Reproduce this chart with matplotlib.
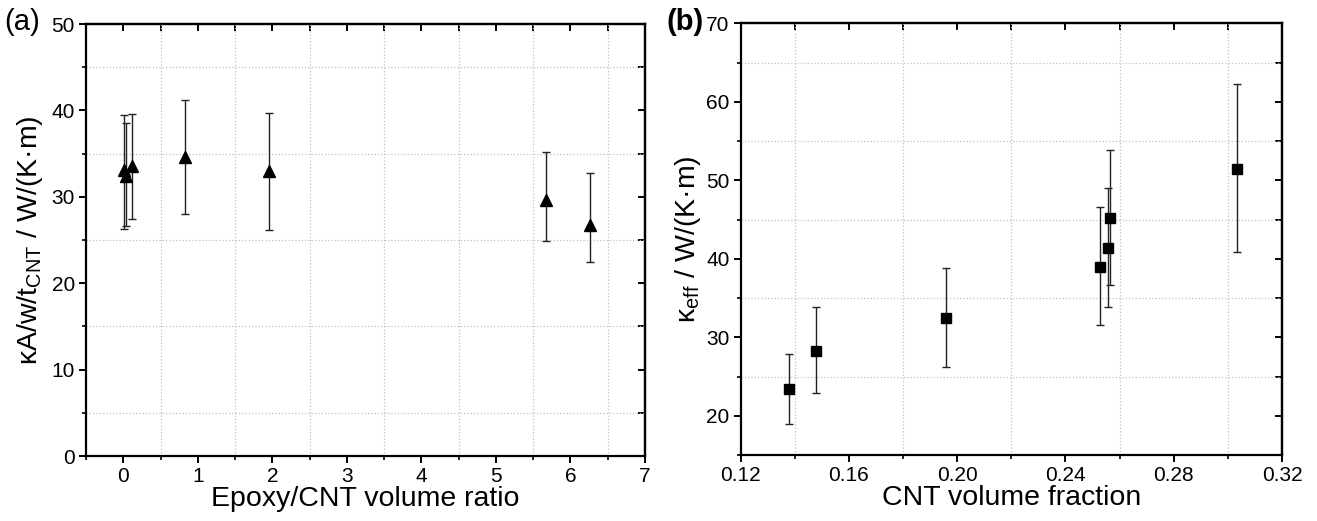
import matplotlib
matplotlib.use("Agg")
import matplotlib.pyplot as plt
from matplotlib.ticker import MultipleLocator, NullFormatter

plt.rcParams['font.family'] = ['Liberation Sans', 'DejaVu Sans']
plt.rcParams['mathtext.fontset'] = 'custom'
plt.rcParams['mathtext.rm'] = 'Liberation Sans'

# ---- Panel (a) data ----
a_x = [0.01, 0.03, 0.12, 0.83, 1.96, 5.67, 6.26]
a_y = [33.1, 32.4, 33.6, 34.6, 33.0, 29.6, 26.7]
a_top = [39.5, 38.5, 39.6, 41.2, 39.7, 35.2, 32.7]
a_bot = [26.3, 26.6, 27.4, 28.0, 26.1, 24.9, 22.4]

# ---- Panel (b) data ----
b_x = [0.138, 0.1478, 0.1958, 0.2526, 0.2557, 0.2565, 0.3034]
b_y = [23.4, 28.3, 32.5, 39.0, 41.4, 45.2, 51.5]
b_top = [27.9, 33.8, 38.8, 46.6, 49.0, 53.8, 62.3]
b_bot = [18.9, 22.85, 26.2, 31.6, 33.8, 36.6, 40.9]

a_xlabel = "Epoxy/CNT volume ratio"
a_ylabel = r"κA/w/t$_\mathregular{CNT}$ / W/(K·m)"
b_xlabel = "CNT volume fraction"
b_ylabel = r"κ$_\mathregular{eff}$ / W/(K·m)"
b_xticks = [0.12, 0.16, 0.20, 0.24, 0.28, 0.32]
b_xticklabels = ["0.12", "0.16", "0.20", "0.24", "0.28", "0.32"]

W, H = 1317, 521
fig = plt.figure(figsize=(W / 100, H / 100), dpi=100)
axA = fig.add_axes([86 / W, 1 - 456 / H, (645 - 86) / W, (456 - 24) / H])
axB = fig.add_axes([740.7 / W, 1 - 455 / H, (1282 - 740.7) / W, (455 - 23.3) / H])

spine_lw = 1.6
tick_fs = 15
label_fs = 20.5


def style(ax, xmaj, xmin, ymaj, ymin, yright):
    for s in ax.spines.values():
        s.set_linewidth(spine_lw)
    ax.xaxis.set_major_locator(MultipleLocator(xmaj))
    ax.xaxis.set_minor_locator(MultipleLocator(xmin))
    ax.yaxis.set_major_locator(MultipleLocator(ymaj))
    ax.yaxis.set_minor_locator(MultipleLocator(ymin))
    ax.tick_params(which='major', direction='out', length=5, width=1.4,
                   labelsize=tick_fs, pad=3)
    ax.tick_params(which='minor', direction='out', length=3, width=1.2)
    ax.grid(which='minor', color='#c0c0c0', linestyle=':', linewidth=0.9)
    ax.grid(which='major', visible=False)
    ax.set_axisbelow(True)
    top = ax.secondary_xaxis('top')
    top.xaxis.set_major_locator(MultipleLocator(xmin))
    top.tick_params(direction='in', length=5, width=1.4, labeltop=False)
    top.xaxis.set_major_formatter(NullFormatter())
    top.spines['top'].set_linewidth(spine_lw)
    right = ax.secondary_yaxis('right')
    right.yaxis.set_major_locator(MultipleLocator(yright))
    right.tick_params(direction='in', length=5, width=1.4, labelright=False)
    right.yaxis.set_major_formatter(NullFormatter())
    right.spines['right'].set_linewidth(spine_lw)


# Panel (a)
yerr_a = [[y - b for y, b in zip(a_y, a_bot)], [t - y for y, t in zip(a_y, a_top)]]
axA.errorbar(a_x, a_y, yerr=yerr_a, fmt='^', color='black', markersize=8.5,
             ecolor='#222222', elinewidth=1.0, capsize=3, capthick=1.0, zorder=3)
axA.set_xlim(-0.5, 7)
axA.set_ylim(0, 50)
style(axA, 1, 0.5, 10, 5, 5)
axA.set_xlabel(a_xlabel, fontsize=label_fs, labelpad=0)
axA.set_ylabel(a_ylabel, fontsize=label_fs, labelpad=5)

# Panel (b)
yerr_b = [[y - b for y, b in zip(b_y, b_bot)], [t - y for y, t in zip(b_y, b_top)]]
axB.errorbar(b_x, b_y, yerr=yerr_b, fmt='s', color='black', markersize=7,
             ecolor='#222222', elinewidth=1.0, capsize=3, capthick=1.0, zorder=3)
axB.set_xlim(0.12, 0.32)
axB.set_ylim(15, 70)
style(axB, 0.04, 0.02, 10, 5, 5)
axB.set_xticks(b_xticks)
axB.set_xticklabels(b_xticklabels)
axB.set_xlabel(b_xlabel, fontsize=label_fs, labelpad=0)
axB.set_ylabel(b_ylabel, fontsize=label_fs, labelpad=2)

fig.text(4 / W, 1 - 22 / H, "(a)", fontsize=21, va='center', ha='left')
fig.text(667 / W, 1 - 22 / H, "(b)", fontsize=21, va='center', ha='left',
         fontweight='bold')

fig.savefig("out.png", dpi=100)
